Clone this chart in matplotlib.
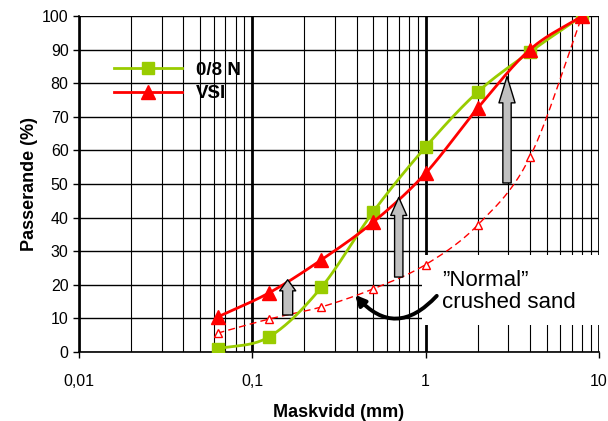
import numpy as np
import matplotlib
matplotlib.use('Agg')
from matplotlib import pyplot as plt
from matplotlib.patches import Rectangle
from matplotlib.ticker import FixedLocator, FuncFormatter, LogLocator, NullFormatter

plt.rcParams['font.family'] = ['Liberation Sans', 'DejaVu Sans']

# Sieve sizes (mm) and passing percentages
sieves = [0.063, 0.125, 0.25, 0.5, 1, 2, 4, 8]
pass_08n = [0.9, 4.5, 19.2, 41.8, 61.0, 77.4, 89.3, 100]
pass_vsi = [10.4, 17.6, 27.4, 38.7, 53.2, 72.6, 90.0, 100]
pass_normal = [5.6, 9.8, 13.4, 18.8, 26.0, 37.8, 58.0, 100]

legend_labels = ['0/8 N', 'VSI']
note_text = '\u201dNormal\u201d\ncrushed sand'

# Grey block arrows: (x, y_from, y_to)
arrows = [(0.16, 11.0, 21.5), (0.70, 22.3, 46.0), (2.95, 50.3, 82.0)]

GREEN = '#99cc00'
RED = '#ff0000'


def smooth(x, y, n=24):
    # Catmull-Rom through the points, in log-x space (like Excel's smoothed line)
    lx = np.log10(x)
    y = np.asarray(y, float)
    px = np.concatenate([[2 * lx[0] - lx[1]], lx, [2 * lx[-1] - lx[-2]]])
    py = np.concatenate([[2 * y[0] - y[1]], y, [2 * y[-1] - y[-2]]])
    xs, ys = [], []
    t = np.linspace(0, 1, n)
    for i in range(1, len(px) - 2):
        for p, out in ((px, xs), (py, ys)):
            p0, p1, p2, p3 = p[i - 1], p[i], p[i + 1], p[i + 2]
            out.extend(0.5 * (2 * p1 + (-p0 + p2) * t
                              + (2 * p0 - 5 * p1 + 4 * p2 - p3) * t ** 2
                              + (-p0 + 3 * p1 - 3 * p2 + p3) * t ** 3))
    return 10 ** np.array(xs), np.array(ys)


fig = plt.figure(figsize=(6.08, 4.21), dpi=100)
ax = fig.add_axes([0.130, 0.164, 0.855, 0.798])

ax.set_xscale('log')
ax.set_xlim(0.01, 10)
ax.set_ylim(0, 100)

# curves
sx, sy = smooth(sieves, pass_normal)
ax.plot(sx, sy, color=RED, lw=1, ls=(0, (5, 3)), zorder=3)
ax.plot(sieves, pass_normal, ls='none', marker='^', ms=6, mfc='white', mec=RED, mew=1, zorder=3)

sx, sy = smooth(sieves, pass_08n)
ax.plot(sx, sy, color=GREEN, lw=2, zorder=4)
ax.plot(sieves, pass_08n, ls='none', marker='s', ms=9, color=GREEN, zorder=4)

sx, sy = smooth(sieves, pass_vsi)
ax.plot(sx, sy, color=RED, lw=2, zorder=5)
ax.plot(sieves, pass_vsi, ls='none', marker='^', ms=10, color=RED, zorder=5)

# legend handles
h1, = ax.plot([], [], color=GREEN, lw=2, marker='s', ms=9)
h2, = ax.plot([], [], color=RED, lw=2, marker='^', ms=10)
leg = ax.legend([h1, h2], legend_labels, loc='upper left', bbox_to_anchor=(0.035, 0.915),
                frameon=False, handlelength=3.6, handletextpad=0.75, labelspacing=0.35,
                prop={'weight': 'bold', 'size': 13.5})

# grey arrows (sizes in points, mutation_scale=20)
for x, y0, y1 in arrows:
    span = y1 - y0
    head_len = 0.95 if span > 25 else (0.65 if span > 15 else 0.4)
    tail = 0.3 if span > 15 else 0.36
    ax.annotate('', xy=(x, y1), xytext=(x, y0),
                arrowprops=dict(arrowstyle=f'simple,head_length={head_len},head_width=0.58,tail_width={tail}',
                                mutation_scale=20, fc='#c0c0c0', ec='black', lw=1,
                                shrinkA=0, shrinkB=0),
                zorder=6)

# white note box
ax.add_patch(Rectangle((0.66, 0.08), 0.35, 0.21, transform=ax.transAxes,
                       facecolor='white', edgecolor='none', zorder=2.5, clip_on=False))
ax.text(0.698, 0.18, note_text, transform=ax.transAxes, fontsize=16,
        va='center', ha='left', linespacing=1.12, zorder=7)
ax.annotate('', xy=(0.392, 17), xytext=(1.16, 16.7),
            arrowprops=dict(arrowstyle='-|>,head_length=0.6,head_width=0.3', color='black', lw=2.8,
                            connectionstyle='arc3,rad=-0.55', shrinkA=0, shrinkB=0),
            zorder=7)

# grid
ax.xaxis.set_major_locator(FixedLocator([0.01, 0.1, 1, 10]))
ax.xaxis.set_minor_locator(LogLocator(base=10, subs=np.arange(2, 10), numticks=20))
ax.xaxis.set_minor_formatter(NullFormatter())
ax.xaxis.set_major_formatter(FuncFormatter(lambda v, p: f'{v:g}'.replace('.', ',')))
ax.set_yticks(np.arange(0, 101, 10))
ax.xaxis.grid(True, which='major', color='black', lw=2)
ax.xaxis.grid(True, which='minor', color='black', lw=0.8)
ax.yaxis.grid(True, which='major', color='black', lw=1)
ax.set_axisbelow(True)
for s in ('top', 'right'):
    ax.spines[s].set_visible(False)
for s in ('left', 'bottom'):
    ax.spines[s].set_linewidth(1.2)
ax.tick_params(axis='both', which='major', direction='out', length=4, width=1, labelsize=11.5)
ax.tick_params(axis='x', which='minor', length=0)
ax.tick_params(axis='x', pad=12)

ax.set_xlabel('Maskvidd (mm)', fontsize=13, fontweight='bold', labelpad=11)
ax.set_ylabel('Passerande (%)', fontsize=13, fontweight='bold', labelpad=3)

fig.savefig('out.png', dpi=100)
